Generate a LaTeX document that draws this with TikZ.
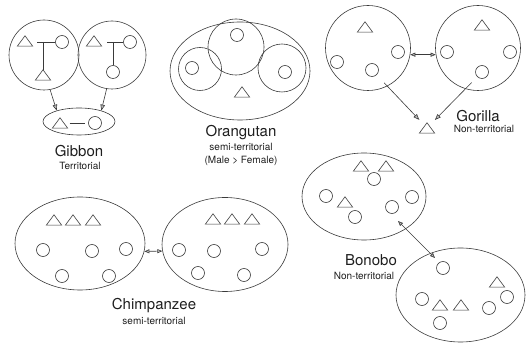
\documentclass[tikz,border=0pt]{standalone}
\usepackage{fontspec}
\setmainfont{TeX Gyre Heros}
\usetikzlibrary{shapes.geometric,arrows.meta}
\definecolor{lc}{HTML}{3A3A3A}
\definecolor{txt}{HTML}{1E1E1E}
\tikzset{
  ln/.style={draw=lc, line width=0.6pt},
  sc/.style={circle, ln, minimum size=13pt, inner sep=0pt},
  bigc/.style={circle, ln, minimum size=#1, inner sep=0pt},
  ell/.style 2 args={ellipse, ln, minimum width=#1, minimum height=#2, inner sep=0pt},
  trin/.style={rectangle, inner sep=0pt, minimum width=15pt, minimum height=10pt},
  title/.style={font=\fontsize{15}{15}\selectfont, anchor=base, text=txt, inner sep=0pt},
  sub/.style={font=\fontsize{10}{10}\selectfont, anchor=base, text=txt, inner sep=0pt},
  arr/.style={ln, -{Triangle[length=6pt,width=4.5pt,fill=gray!55]}},
  darr/.style={ln, {Triangle[length=5pt,width=4pt,fill=gray!55]}-{Triangle[length=5pt,width=4pt,fill=gray!55]}},
}
\newcommand\mytri[2]{\node[trin] (#1) at (#2) {}; \draw[ln, line join=miter] (#1.south west) -- (#1.south east) -- (#1.north) -- cycle;}
\begin{document}
\begin{tikzpicture}[x=1pt, y=-1pt]
\useasboundingbox (0,0) rectangle (527,344);
% ---------------- Gibbon
\node[bigc=70pt] (gibL) at (44,55) {};
\node[bigc=68pt] (gibR) at (112,55) {};
\mytri{gibLt1}{25,41}
\node[sc] (gibLc) at (62,42) {};
\mytri{gibLt2}{43,75}
\coordinate (gibLbar) at (37,42);
\coordinate (gibLj) at (43,42);
\draw[ln] (gibLbar) -- (gibLc);
\draw[ln] (gibLj) -- (gibLt2);
\mytri{gibRt}{94,41}
\node[sc] (gibRc1) at (130,42) {};
\node[sc] (gibRc2) at (113,72) {};
\coordinate (gibRbar) at (107,42);
\coordinate (gibRj) at (113,42);
\draw[ln] (gibRbar) -- (gibRc1);
\draw[ln] (gibRj) -- (gibRc2);
\node[ell={72pt}{27pt}] (gibE) at (79,121.5) {};
\mytri{gibEt}{60,123}
\node[sc] (gibEc) at (95,123) {};
\draw[ln, shorten <=2pt, shorten >=3pt] (gibEt) -- (gibEc);
\draw[arr] (gibL.-80) -- (gibE.154);
\draw[arr] (gibR.-99) -- (gibE.26);
\node[title] (gibT) at (79,157) {Gibbon};
\node[sub] (gibS) at (80,170) {Territorial};
% ---------------- Orangutan
\node[ell={140pt}{98pt}] (oE) at (240,71) {};
\node[bigc=56pt] (oC1) at (236,47) {};
\node[bigc=43pt] (oC2) at (200,69) {};
\node[bigc=48pt] (oC3) at (282,68) {};
\node[sc] (oc1) at (237,35) {};
\node[sc] (oc2) at (192,68) {};
\node[sc] (oc3) at (285,72) {};
\mytri{ot}{242,92}
\node[title] (oT) at (241,137) {Orangutan};
\node[sub] (oS1) at (241,151) {semi-territorial};
\node[sub] (oS2) at (241,164) {(Male > Female)};
% ---------------- Gorilla
\node[bigc=85pt] (gorL) at (368,48) {};
\node[bigc=85pt] (gorR) at (478,48) {};
\mytri{gorLt}{365,27}
\node[sc] (gorLc1) at (337,62) {};
\node[sc] (gorLc2) at (372,70) {};
\node[sc] (gorLc3) at (398,52) {};
\mytri{gorRt}{482,25}
\node[sc] (gorRc1) at (447,52) {};
\node[sc] (gorRc2) at (482,72) {};
\node[sc] (gorRc3) at (510,52) {};
\mytri{gorT}{427,128}
\draw[darr] (gorL.-9) -- (gorR.189);
\draw[arr, shorten <=11pt, shorten >=4pt] (gorLc2) -- (gorT);
\draw[arr, shorten <=8pt, shorten >=4pt] (gorRc2) -- (gorT);
\node[title] (gorTi) at (478,122) {Gorilla};
\node[sub] (gorS) at (484,133) {Non-territorial};
% ---------------- Chimpanzee
\node[ell={130pt}{93pt}] (chL) at (80,243.5) {};
\node[ell={126pt}{94pt}] (chR) at (225,244.5) {};
\mytri{chLt1}{54,220}
\mytri{chLt2}{73,220}
\mytri{chLt3}{93,220}
\node[sc] (chLc1) at (43,250) {};
\node[sc] (chLc2) at (92,251) {};
\node[sc] (chLc3) at (126,249) {};
\node[sc] (chLc4) at (62,276) {};
\node[sc] (chLc5) at (109,276) {};
\mytri{chRt1}{213,219}
\mytri{chRt2}{232,219}
\mytri{chRt3}{252,219}
\node[sc] (chRc1) at (179,250) {};
\node[sc] (chRc2) at (214,251) {};
\node[sc] (chRc3) at (262,249) {};
\node[sc] (chRc4) at (198,273) {};
\node[sc] (chRc5) at (244,275) {};
\draw[darr] (chL.-7.6) -- (chR.186.9);
\node[title] (chT) at (154,310) {Chimpanzee};
\node[sub] (chS) at (154,324) {semi-territorial};
% ---------------- Bonobo
\node[ell={124pt}{87pt}] (bT) at (364,196.5) {};
\node[ell={129pt}{94pt}] (bB) at (460.5,295) {};
\mytri{bTt1}{361,166}
\mytri{bTt2}{386,166}
\node[sc] (bTc1) at (374,179) {};
\node[sc] (bTc2) at (326,196) {};
\mytri{bTt3}{345,202}
\node[sc] (bTc3) at (355,217) {};
\node[sc] (bTc4) at (392,207) {};
\node[sc] (bTc5) at (412,197) {};
\node[sc] (bBc1) at (443,268) {};
\mytri{bBt1}{497,282}
\node[sc] (bBc2) at (507,297) {};
\node[sc] (bBc3) at (489,308) {};
\node[sc] (bBc4) at (422,299) {};
\mytri{bBt2}{440,305}
\mytri{bBt3}{461,305}
\node[sc] (bBc5) at (440,323) {};
\coordinate (bA) at (398,221);
\coordinate (bZ) at (435,258);
\draw[darr] (bA) -- (bZ);
\node[title] (bTi) at (371,266) {Bonobo};
\node[sub] (bS) at (364,280) {Non-territorial};
\end{tikzpicture}
\end{document}
